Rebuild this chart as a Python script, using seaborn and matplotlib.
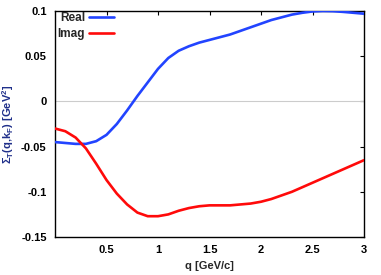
import numpy as np
import pandas as pd
import matplotlib
matplotlib.use("Agg")
import matplotlib.pyplot as plt
import seaborn as sns

q = [0.0, 0.1, 0.2, 0.3, 0.4, 0.5, 0.6, 0.7, 0.8, 0.9, 1.0, 1.1, 1.2, 1.3, 1.4, 1.5,
     1.6, 1.7, 1.8, 1.9, 2.0, 2.1, 2.2, 2.3, 2.4, 2.5, 2.6, 2.7, 2.8, 2.9, 3.0]
real = [-0.045, -0.046, -0.047, -0.047, -0.044, -0.037, -0.025, -0.010, 0.006, 0.021,
        0.036, 0.048, 0.056, 0.061, 0.065, 0.068, 0.071, 0.074, 0.078, 0.082, 0.086,
        0.090, 0.093, 0.096, 0.098, 0.0995, 0.100, 0.0998, 0.099, 0.098, 0.097]
imag = [-0.030, -0.033, -0.040, -0.052, -0.069, -0.087, -0.102, -0.114, -0.123, -0.127,
        -0.127, -0.125, -0.121, -0.118, -0.116, -0.115, -0.115, -0.115, -0.114, -0.113,
        -0.111, -0.108, -0.104, -0.100, -0.095, -0.090, -0.085, -0.080, -0.075, -0.070, -0.065]
xticks = [0.5, 1, 1.5, 2, 2.5, 3]
yticks = [-0.15, -0.1, -0.05, 0, 0.05, 0.1]
ytick_labels = ["-0.15", "-0.1", "-0.05", "0", "0.05", "0.1"]
xtick_labels = ["0.5", "1", "1.5", "2", "2.5", "3"]

sns.set_style("white")
plt.rcParams["font.family"] = ["Liberation Sans", "DejaVu Sans"]
plt.rcParams["font.weight"] = "bold"
plt.rcParams["mathtext.fontset"] = "custom"
plt.rcParams["mathtext.rm"] = "Liberation Sans:bold"
plt.rcParams["mathtext.bf"] = "Liberation Sans:bold"
plt.rcParams["mathtext.it"] = "Liberation Sans:bold"
plt.rcParams["mathtext.default"] = "bf"

df = pd.DataFrame({"q": q + q, "val": real + imag,
                   "part": ["Real"] * len(q) + ["Imag"] * len(q)})

fig = plt.figure(figsize=(3.81, 2.75), dpi=100)
ax = fig.add_axes([0.1444, 0.1382, 0.8110, 0.8218])
ax.axhline(0, color="#cccccc", lw=0.8, zorder=1)
sns.lineplot(data=df, x="q", y="val", hue="part", palette={"Real": "#2244ff", "Imag": "#ff0a0a"},
             lw=1.9, ax=ax, zorder=3)

ax.set_xlim(0, 3)
ax.set_ylim(-0.15, 0.1)
ax.set_xticks(xticks)
ax.set_xticklabels(xtick_labels)
ax.set_yticks(yticks)
ax.set_yticklabels(ytick_labels)
ax.tick_params(direction="in", length=3, width=0.8, top=True, right=True,
               labelsize=8, pad=6, colors="black")
for s in ax.spines.values():
    s.set_color("black")
    s.set_linewidth(1.0)
ax.set_xlabel("q [GeV/c]", fontsize=8, fontweight="bold", labelpad=4)
ax.set_ylabel(r"$\Sigma_{T}$(q,k$_{F}$) [GeV$^{2}$]", fontsize=8, fontweight="bold",
              color="#1f2f8a", labelpad=4)

leg = ax.legend(loc="upper left", bbox_to_anchor=(0.0, 1.004), frameon=False, markerfirst=False,
                fontsize=8.5, handlelength=2.1, borderaxespad=0.0, borderpad=0.2,
                labelspacing=0.3, handletextpad=0.35)
for t in leg.get_texts():
    t.set_fontweight("bold")

fig.savefig("out.png", dpi=100)
